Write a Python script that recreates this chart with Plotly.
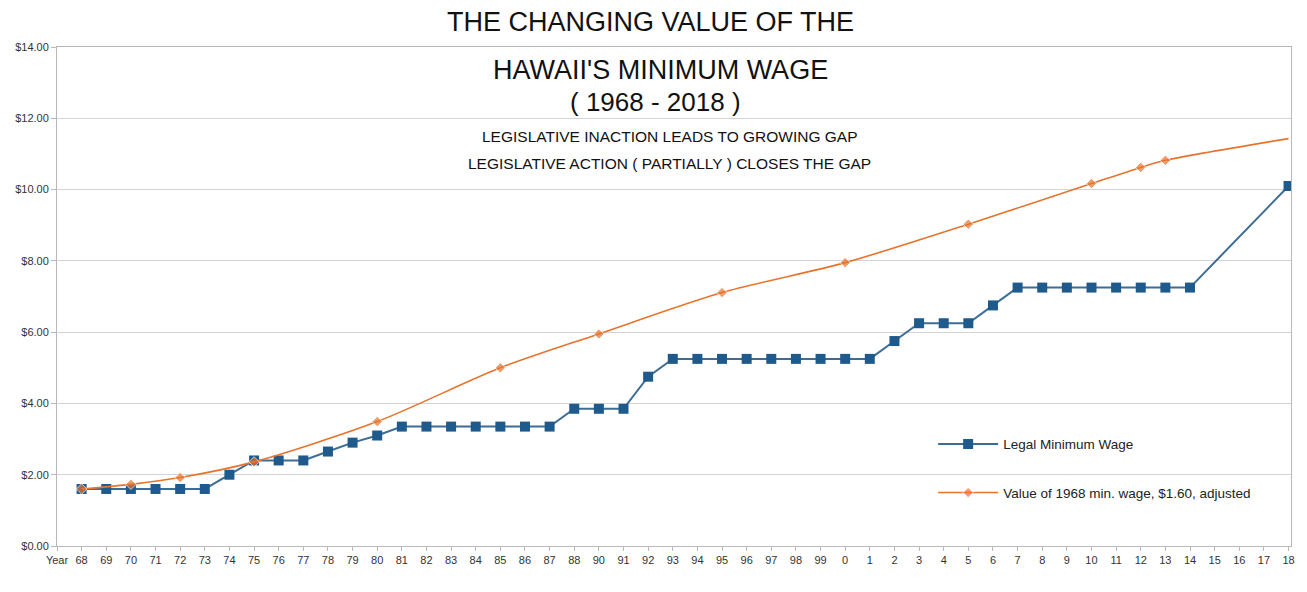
import plotly.graph_objects as go

categories = ["68", "69", "70", "71", "72", "73", "74", "75", "76", "77", "78", "79",
              "80", "81", "82", "83", "84", "85", "86", "87", "88", "90", "91", "92",
              "93", "94", "95", "96", "97", "98", "99", "0", "1", "2", "3", "4", "5",
              "6", "7", "8", "9", "10", "11", "12", "13", "14", "15", "16", "17", "18"]

legal_min_wage = [1.60, 1.60, 1.60, 1.60, 1.60, 1.60, 2.00, 2.40, 2.40, 2.40, 2.65, 2.90,
                  3.10, 3.35, 3.35, 3.35, 3.35, 3.35, 3.35, 3.35, 3.85, 3.85, 3.85, 4.75,
                  5.25, 5.25, 5.25, 5.25, 5.25, 5.25, 5.25, 5.25, 5.25, 5.75, 6.25, 6.25, 6.25,
                  6.75, 7.25, 7.25, 7.25, 7.25, 7.25, 7.25, 7.25, 7.25, None, None, None, 10.10]

adjusted_1968 = [1.60, None, 1.73, None, 1.92, None, None, 2.36, None, None, None, None,
                 3.49, None, None, None, None, 5.00, None, None, None, 5.95, None, None,
                 None, None, 7.11, None, None, None, None, 7.95, None, None, None, None, 9.03,
                 None, None, None, None, 10.17, None, 10.62, 10.82, None, None, None, None, 11.43]

y_ticks = [0, 2, 4, 6, 8, 10, 12, 14]
y_tick_labels = ["$0.00", "$2.00", "$4.00", "$6.00", "$8.00", "$10.00", "$12.00", "$14.00"]

x_pos = list(range(1, len(categories) + 1))
x_tick_vals = [0] + x_pos
x_tick_text = ["Year"] + categories

BLUE_M = "#1f5a8c"
BLUE_L = "#3d6d96"
ORANGE = "#e8732c"

orange_sizes = [0 if (i == len(adjusted_1968) - 1) else 8 for i in range(len(adjusted_1968))]

fig = go.Figure()
fig.add_trace(go.Scatter(
    x=x_pos, y=legal_min_wage, mode="lines+markers", name="Legal Minimum Wage",
    connectgaps=True, legendgroup="a",
    line=dict(color=BLUE_L, width=2),
    marker=dict(symbol="square", size=10, color=BLUE_M),
))
fig.add_trace(go.Scatter(
    x=x_pos, y=adjusted_1968, mode="lines+markers",
    name="Value of 1968 min. wage, $1.60, adjusted",
    connectgaps=True, legendgroup="b",
    line=dict(color=ORANGE, width=1.6, shape="spline", smoothing=0.8),
    marker=dict(symbol="diamond", size=orange_sizes, color=ORANGE),
))

font_main = "Liberation Sans, Arial, sans-serif"
font_narrow = "Liberation Sans Narrow, Arial Narrow, Liberation Sans, sans-serif"

def ann(text, x, y, size):
    fig.add_annotation(text=text, xref="paper", yref="paper", x=x, y=y,
                       xanchor="center", yanchor="middle", showarrow=False,
                       font=dict(family=font_main, size=size, color="#111111"))

ann("THE CHANGING VALUE OF THE", 0.481, 1.050, 27)
ann("HAWAII'S MINIMUM WAGE", 0.489, 0.954, 27)
ann("( 1968 - 2018 )", 0.485, 0.890, 26)
ann("LEGISLATIVE INACTION LEADS TO GROWING GAP", 0.497, 0.820, 15.5)
ann("LEGISLATIVE ACTION ( PARTIALLY ) CLOSES THE GAP", 0.496, 0.766, 15.5)

fig.update_layout(
    width=1307, height=592,
    margin=dict(l=57, r=14, t=47, b=46),
    paper_bgcolor="white", plot_bgcolor="white",
    font=dict(family=font_narrow, size=11, color="#333333"),
    showlegend=True,
    legend=dict(x=0.71, y=0.235, xanchor="left", yanchor="top",
                bgcolor="rgba(0,0,0,0)", tracegroupgap=28, itemwidth=60,
                font=dict(family=font_narrow, size=13.5, color="#222222")),
    xaxis=dict(range=[0, 50.1], tickmode="array", tickvals=x_tick_vals, ticktext=x_tick_text,
               showgrid=False, zeroline=False, showline=True, linecolor="#b8b8b8",
               linewidth=1, mirror=True, ticks="outside", ticklen=4, tickcolor="#b8b8b8",
               tickfont=dict(family=font_narrow, size=11, color="#333333"), tickangle=0),
    yaxis=dict(range=[0, 14], tickmode="array", tickvals=y_ticks, ticktext=y_tick_labels,
               showgrid=True, gridcolor="#d4d4d4", gridwidth=1, zeroline=False,
               showline=True, linecolor="#b8b8b8", linewidth=1, mirror=True,
               ticks="outside", ticklen=5, tickcolor="#b8b8b8",
               tickfont=dict(family=font_narrow, size=11, color="#333333")),
)

fig.write_html("out.html")
